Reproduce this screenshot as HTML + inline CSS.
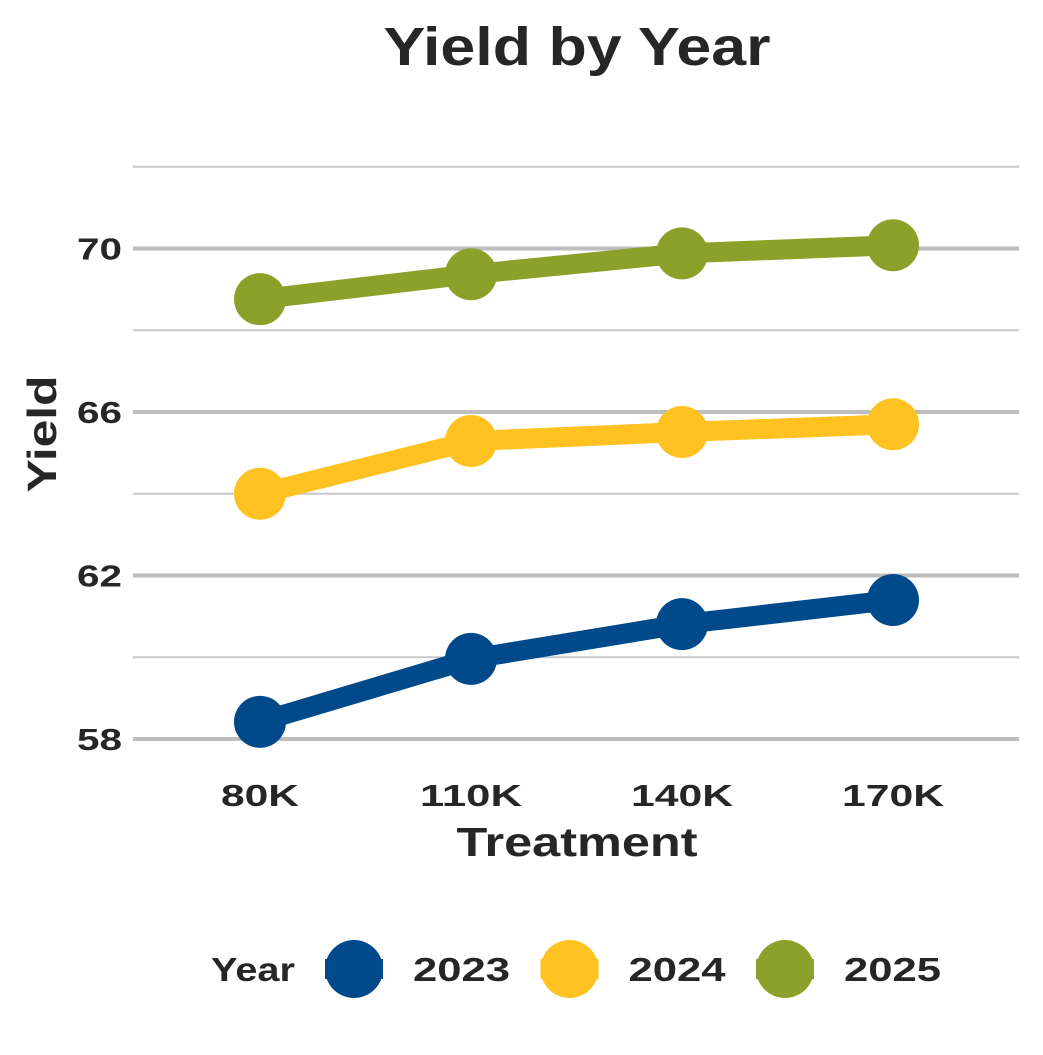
<!DOCTYPE html>
<html><head><meta charset="utf-8"><style>
body{margin:0;background:#fff}
svg text{font-family:"Liberation Sans",sans-serif;font-weight:bold;fill:#262626}
</style></head><body>
<svg width="1043" height="1050">
<g id="grid"></g><g id="series"></g><g id="axes"></g>
<text x="577" y="65" font-size="54" text-anchor="middle" textLength="387" lengthAdjust="spacingAndGlyphs">Yield by Year</text>
<text x="577" y="856" font-size="41" text-anchor="middle" textLength="241" lengthAdjust="spacingAndGlyphs">Treatment</text>
<text transform="translate(56,434) rotate(-90)" font-size="41" text-anchor="middle" textLength="117" lengthAdjust="spacingAndGlyphs">Yield</text>
<g id="legend"></g>
</svg>
<script>
const categories=["80K","110K","140K","170K"];
const years=["2023","2024","2025"];
const colors=["#004a8c","#ffc220","#8ca12a"];
const y2023=[58.42,59.96,60.81,61.40];
const y2024=[64.0,65.29,65.51,65.70];
const y2025=[68.76,69.37,69.88,70.08];
const yTicks=[58,62,66,70];
const yMinor=[60,64,68,72];
const series=[y2023,y2024,y2025];
const NS="http://www.w3.org/2000/svg";
const xS=i=>260+i*211;
const yS=v=>739-(v-58)*40.875;
function mk(t,a,p){const e=document.createElementNS(NS,t);for(const k in a)e.setAttribute(k,a[k]);p.appendChild(e);return e;}
const grid=document.getElementById('grid');
yMinor.forEach(v=>{const l=mk('line',{x1:133,x2:1019,y1:yS(v),y2:yS(v),stroke:'#c8c8c8','stroke-width':2},grid);

});
const axes=document.getElementById('axes');
yTicks.forEach(v=>{const l=mk('line',{x1:133,x2:1019,y1:yS(v),y2:yS(v),stroke:'#bdbdbd','stroke-width':4},grid);


const t=mk('text',{x:122,y:yS(v)+11,'font-size':31,'text-anchor':'end',textLength:45,lengthAdjust:'spacingAndGlyphs'},axes);t.textContent=v;

});
categories.forEach((c,i)=>{const t=mk('text',{x:xS(i),y:806,'font-size':31,'text-anchor':'middle',textLength:c.length*24+6,lengthAdjust:'spacingAndGlyphs'},axes);t.textContent=c;

});
const sg=document.getElementById('series');
series.forEach((s,k)=>{
const p=mk('polyline',{points:s.map((v,i)=>xS(i)+','+yS(v)).join(' '),fill:'none',stroke:colors[k],'stroke-width':20,'stroke-linejoin':'round'},sg);


s.forEach((v,i)=>{const c=mk('circle',{cx:xS(i),cy:yS(v),r:26,fill:colors[k]},sg);

});
});
const lg=document.getElementById('legend');
const lt=mk('text',{x:211,y:981,'font-size':33,textLength:84,lengthAdjust:'spacingAndGlyphs'},lg);lt.textContent='Year';


years.forEach((y,k)=>{const cx=354+k*215.5;
const g=mk('g',{},lg);


mk('line',{x1:cx-29,x2:cx+29,y1:969,y2:969,stroke:colors[k],'stroke-width':20},g);
mk('circle',{cx:cx,cy:969,r:29,fill:colors[k]},g);
const t=mk('text',{x:cx+59,y:981,'font-size':33,textLength:97,lengthAdjust:'spacingAndGlyphs'},g);t.textContent=y;});
</script>
</body></html>
